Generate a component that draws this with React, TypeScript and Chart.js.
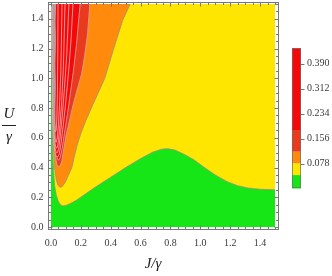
import React, { useEffect, useRef } from 'react';
import { Chart, registerables } from 'chart.js';

Chart.register(...registerables);

// ---- axis ticks ----
const X_TICKS = [0, 0.2, 0.4, 0.6, 0.8, 1.0, 1.2, 1.4];
const Y_TICKS = [0, 0.2, 0.4, 0.6, 0.8, 1.0, 1.2, 1.4];
const CB_TICKS = [0.078, 0.156, 0.234, 0.312, 0.39];

// ---- colour bar levels (value bands) and colours ----
const CB_LEVELS = [0, 0.042, 0.0786, 0.115, 0.1825, 0.438];
const GREEN = '#16e616';
const YELLOW = '#ffe600';
const ORANGE = '#ff8a0c';
const DARKRED = '#ea3a1e';
const RED = '#f40808';
const GRAY = '#a3a3a3';
const CB_COLORS = [GREEN, YELLOW, ORANGE, DARKRED, RED];

// ---- data domain ----
const DOMAIN_RECT: [number, number][] = [[0, 0], [1.5, 0], [1.5, 1.5], [0, 1.5]];
const GREEN_CLOSE: [number, number][] = [[1.5, 0], [0, 0], [0, 1.5]];

// ---- contour boundaries (J/γ, U/γ) ----
const GREEN_EDGE: [number, number][] = [
  [0.006, 1.5], [0.0065, 1.2], [0.007, 0.9], [0.009, 0.65], [0.012, 0.5], [0.017, 0.38],
  [0.024, 0.28], [0.035, 0.215], [0.05, 0.17], [0.065, 0.148], [0.08, 0.142], [0.1, 0.145],
  [0.13, 0.158], [0.17, 0.18], [0.22, 0.215], [0.3, 0.27], [0.4, 0.335], [0.5, 0.4],
  [0.6, 0.46], [0.68, 0.503], [0.74, 0.523], [0.78, 0.527], [0.83, 0.518], [0.9, 0.485],
  [0.96, 0.45], [1.02, 0.405], [1.1, 0.35], [1.18, 0.305], [1.25, 0.278], [1.32, 0.262],
  [1.4, 0.254], [1.5, 0.25],
];
const ORANGE_EDGE: [number, number][] = [
  [0.007, 1.5], [0.0075, 1.2], [0.009, 0.9], [0.012, 0.7], [0.017, 0.52], [0.024, 0.4],
  [0.035, 0.32], [0.047, 0.28], [0.06, 0.267], [0.075, 0.272], [0.095, 0.3], [0.115, 0.345],
  [0.14, 0.4], [0.155, 0.47], [0.175, 0.55], [0.2, 0.63], [0.235, 0.72], [0.27, 0.8],
  [0.315, 0.9], [0.36, 1.0], [0.42, 1.2], [0.48, 1.39], [0.53, 1.5],
];
const DARKRED_EDGE: [number, number][] = [
  [0.0075, 1.5], [0.008, 1.2], [0.0095, 0.95], [0.013, 0.75], [0.02, 0.58], [0.03, 0.47],
  [0.04, 0.42], [0.05, 0.405], [0.06, 0.41], [0.072, 0.44], [0.085, 0.52], [0.1, 0.61],
  [0.125, 0.72], [0.15, 0.83], [0.18, 0.94], [0.205, 1.03], [0.225, 1.15], [0.245, 1.3],
  [0.26, 1.5],
];
const RED_EDGE: [number, number][] = [
  [0.008, 1.5], [0.0085, 1.2], [0.01, 0.95], [0.015, 0.75], [0.022, 0.6], [0.032, 0.5],
  [0.043, 0.455], [0.053, 0.45], [0.062, 0.47], [0.075, 0.53], [0.09, 0.63], [0.11, 0.76],
  [0.13, 0.9], [0.15, 1.05], [0.17, 1.22], [0.195, 1.5],
];
const RED_LINE_1: [number, number][] = [
  [0.0085, 1.5], [0.009, 1.2], [0.0105, 0.95], [0.013, 0.75], [0.018, 0.6], [0.025, 0.51],
  [0.035, 0.475], [0.045, 0.47], [0.055, 0.49], [0.067, 0.56], [0.082, 0.68], [0.1, 0.85],
  [0.12, 1.07], [0.135, 1.27], [0.147, 1.5],
];
const RED_LINE_2: [number, number][] = [
  [0.0088, 1.5], [0.0093, 1.2], [0.011, 0.95], [0.014, 0.75], [0.019, 0.62], [0.026, 0.535],
  [0.035, 0.5], [0.043, 0.5], [0.052, 0.53], [0.062, 0.61], [0.075, 0.74], [0.09, 0.93],
  [0.105, 1.15], [0.12, 1.5],
];
const RED_LINE_3: [number, number][] = [
  [0.009, 1.5], [0.0095, 1.2], [0.0115, 0.95], [0.015, 0.76], [0.02, 0.64], [0.027, 0.56],
  [0.035, 0.53], [0.042, 0.535], [0.05, 0.58], [0.06, 0.68], [0.072, 0.85], [0.083, 1.08],
  [0.094, 1.5],
];
const RED_LINE_4: [number, number][] = [
  [0.0093, 1.5], [0.01, 1.2], [0.012, 0.95], [0.016, 0.78], [0.022, 0.66], [0.028, 0.59],
  [0.035, 0.57], [0.042, 0.6], [0.05, 0.69], [0.058, 0.84], [0.066, 1.05], [0.074, 1.5],
];
const RED_LINE_5: [number, number][] = [
  [0.0096, 1.5], [0.0105, 1.2], [0.013, 0.95], [0.018, 0.8], [0.024, 0.7], [0.029, 0.64],
  [0.034, 0.65], [0.039, 0.72], [0.043, 0.9], [0.045, 1.15], [0.047, 1.5],
];
const GRAY_EDGE: [number, number][] = [
  [0.01, 1.5], [0.0105, 1.2], [0.012, 0.9], [0.014, 0.72], [0.018, 0.6], [0.021, 0.545],
  [0.025, 0.56], [0.027, 0.65], [0.026, 0.8], [0.029, 0.95], [0.026, 1.1], [0.03, 1.25],
  [0.027, 1.38], [0.031, 1.5],
];

const LINE_WARM = 'rgba(150,140,140,0.75)';
const LINE_RED = 'rgba(255,170,170,0.85)';
const LINE_EDGE = 'rgba(215,160,160,0.85)';

const FONT = '"Liberation Serif", "Times New Roman", serif';
const TICK_COLOR = '#3a3a3a';
const FRAME_COLOR = '#777';

type Region = { pts: [number, number][]; fill: string; line: string | null; close?: [number, number][] };
const REGIONS: Region[] = [
  { pts: DOMAIN_RECT, fill: YELLOW, line: null },
  { pts: GREEN_EDGE, fill: GREEN, line: LINE_WARM, close: GREEN_CLOSE },
  { pts: ORANGE_EDGE, fill: ORANGE, line: LINE_WARM },
  { pts: DARKRED_EDGE, fill: DARKRED, line: LINE_EDGE },
  { pts: RED_EDGE, fill: RED, line: LINE_EDGE },
  { pts: RED_LINE_1, fill: RED, line: LINE_RED },
  { pts: RED_LINE_2, fill: RED, line: LINE_RED },
  { pts: RED_LINE_3, fill: RED, line: LINE_RED },
  { pts: RED_LINE_4, fill: RED, line: LINE_RED },
  { pts: RED_LINE_5, fill: RED, line: LINE_RED },
  { pts: GRAY_EDGE, fill: GRAY, line: LINE_EDGE },
];

const contourPlugin = {
  id: 'contourPlugin',
  beforeDatasetsDraw(chart: any) {
    const ctx = chart.ctx as CanvasRenderingContext2D;
    const xs = chart.scales.x;
    const ys = chart.scales.y;
    const ca = chart.chartArea;
    ctx.save();
    ctx.beginPath();
    ctx.rect(ca.left, ca.top, ca.right - ca.left, ca.bottom - ca.top);
    ctx.clip();
    chart.data.datasets.forEach((ds: any, i: number) => {
      const pts = chart.getDatasetMeta(i).data;
      if (!pts.length) return;
      ctx.beginPath();
      pts.forEach((p: any, j: number) => (j ? ctx.lineTo(p.x, p.y) : ctx.moveTo(p.x, p.y)));
      (ds.closeWith || []).forEach(([x, y]: [number, number]) =>
        ctx.lineTo(xs.getPixelForValue(x), ys.getPixelForValue(y))
      );
      ctx.closePath();
      ctx.fillStyle = ds.fillColor;
      ctx.fill();
      if (ds.lineColor) {
        ctx.beginPath();
        pts.forEach((p: any, j: number) => (j ? ctx.lineTo(p.x, p.y) : ctx.moveTo(p.x, p.y)));
        ctx.strokeStyle = ds.lineColor;
        ctx.lineWidth = 1;
        ctx.stroke();
      }
    });
    ctx.restore();
  },
  afterDraw(chart: any) {
    const ctx = chart.ctx as CanvasRenderingContext2D;
    const { left, right, top, bottom } = chart.chartArea;
    const xs = chart.scales.x;
    const ys = chart.scales.y;
    const cb = chart.scales.cb;
    ctx.save();
    // frame
    const L = Math.round(left) + 0.5;
    const R = Math.round(right) - 0.5;
    const T = Math.round(top) + 0.5;
    const B = Math.round(bottom) - 0.5;
    ctx.strokeStyle = FRAME_COLOR;
    ctx.lineWidth = 1;
    ctx.strokeRect(L, T, R - L, B - T);
    // ticks (inward)
    ctx.beginPath();
    for (let i = 0; i <= 30; i++) {
      const v = i * 0.05;
      const len = i % 4 === 0 ? 4 : 2.5;
      const px = Math.round(xs.getPixelForValue(v)) + 0.5;
      ctx.moveTo(px, B); ctx.lineTo(px, B - len);
      ctx.moveTo(px, T); ctx.lineTo(px, T + len);
      const py = Math.round(ys.getPixelForValue(v)) + 0.5;
      ctx.moveTo(L, py); ctx.lineTo(L + len, py);
      ctx.moveTo(R, py); ctx.lineTo(R - len, py);
    }
    ctx.stroke();

    // colour bar
    const x0 = 292;
    const x1 = 301;
    for (let i = 0; i < CB_COLORS.length; i++) {
      const yLo = cb.getPixelForValue(CB_LEVELS[i]);
      const yHi = cb.getPixelForValue(CB_LEVELS[i + 1]);
      ctx.fillStyle = CB_COLORS[i];
      ctx.fillRect(x0, yHi, x1 - x0, yLo - yHi);
    }
    const cTop = cb.getPixelForValue(CB_LEVELS[CB_LEVELS.length - 1]);
    const cBot = cb.getPixelForValue(CB_LEVELS[0]);
    ctx.strokeStyle = 'rgba(110,110,110,0.7)';
    ctx.strokeRect(x0 + 0.5, Math.round(cTop) + 0.5, x1 - x0 - 1, Math.round(cBot - cTop) - 1);
    ctx.strokeStyle = FRAME_COLOR;
    ctx.beginPath();
    CB_TICKS.forEach((v) => {
      const py = Math.round(cb.getPixelForValue(v)) + 0.5;
      ctx.moveTo(x1, py);
      ctx.lineTo(x1 + 3.5, py);
    });
    ctx.stroke();

    // axis titles
    ctx.fillStyle = '#222';
    ctx.font = `italic 15px ${FONT}`;
    ctx.textAlign = 'center';
    ctx.textBaseline = 'alphabetic';
    ctx.fillText('J/γ', 153, 268);
    ctx.fillText('U', 9, 117.5);
    ctx.fillText('γ', 9, 140.5);
    ctx.strokeStyle = '#222';
    ctx.lineWidth = 1;
    ctx.beginPath();
    ctx.moveTo(2, 125.5);
    ctx.lineTo(16, 125.5);
    ctx.stroke();
    ctx.restore();
  },
};

const noPad = (s: any) => {
  s.paddingTop = 0;
  s.paddingBottom = 0;
  s.paddingLeft = 0;
  s.paddingRight = 0;
};

export default function App() {
  const ref = useRef<HTMLCanvasElement | null>(null);
  useEffect(() => {
    if (!ref.current) return;
    const datasets = REGIONS.map((r, i) => ({
      label: 'r' + i,
      data: r.pts.map(([x, y]) => ({ x, y })),
      showLine: false,
      pointRadius: 0,
      pointHoverRadius: 0,
      fillColor: r.fill,
      lineColor: r.line,
      closeWith: r.close || [],
    }));
    const tickFont = { family: FONT, size: 10 };
    const chart = new Chart(ref.current, {
      type: 'scatter',
      data: { datasets } as any,
      plugins: [contourPlugin],
      options: {
        animation: false,
        responsive: false,
        devicePixelRatio: 1,
        events: [],
        layout: { padding: { top: 1.5, left: 0, right: 0, bottom: 0 } },
        plugins: { legend: { display: false }, tooltip: { enabled: false } },
        scales: {
          x: {
            type: 'linear',
            min: -0.0201,
            max: 1.5234,
            grid: { display: false, drawTicks: false },
            border: { display: false },
            afterBuildTicks: (s: any) => { s.ticks = X_TICKS.map((v) => ({ value: v })); },
            afterFit: (s: any) => { s.height = 46.5; noPad(s); },
            ticks: {
              font: tickFont,
              color: TICK_COLOR,
              padding: 7.5,
              maxRotation: 0,
              autoSkip: false,
              callback: (v: any) => Number(v).toFixed(1),
            },
          },
          y: {
            type: 'linear',
            position: 'left',
            min: -0.0168,
            max: 1.5168,
            grid: { display: false, drawTicks: false },
            border: { display: false },
            afterBuildTicks: (s: any) => { s.ticks = Y_TICKS.map((v) => ({ value: v })); },
            afterFit: (s: any) => { s.width = 48; noPad(s); },
            ticks: {
              font: tickFont,
              color: TICK_COLOR,
              padding: 4.5,
              autoSkip: false,
              callback: (v: any) => Number(v).toFixed(1),
            },
          },
          cb: {
            type: 'linear',
            axis: 'y',
            position: 'right',
            min: -0.1279,
            max: 0.5835,
            grid: { display: false, drawTicks: false },
            border: { display: false },
            afterBuildTicks: (s: any) => { s.ticks = CB_TICKS.map((v) => ({ value: v })); },
            afterFit: (s: any) => { s.width = 53.5; noPad(s); },
            ticks: {
              font: tickFont,
              color: TICK_COLOR,
              padding: 28.5,
              autoSkip: false,
              callback: (v: any) => Number(v).toFixed(3),
            },
          },
        } as any,
      },
    });
    return () => chart.destroy();
  }, []);
  return (
    <div style={{ position: 'absolute', left: 0, top: 0, width: 332, height: 276, background: '#fff' }}>
      <canvas ref={ref} width={332} height={276} style={{ width: 332, height: 276, display: 'block' }} />
    </div>
  );
}
